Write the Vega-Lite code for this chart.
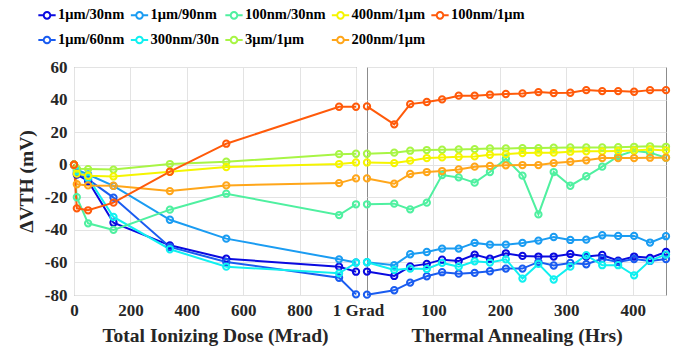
{
  "$schema": "https://vega.github.io/schema/vega-lite/v6.json",
  "background": "white",
  "padding": {"left": 15, "top": 5, "right": 5, "bottom": 5},
  "bounds": "flush",
  "config": {
    "font": "Times New Roman, Liberation Serif, DejaVu Serif, serif",
    "view": {"stroke": "#8c8c8c", "strokeWidth": 1},
    "axis": {
      "labelFont": "Times New Roman, Liberation Serif, DejaVu Serif, serif", "labelFontWeight": "bold", "labelFontSize": 17, "labelColor": "#262626",
      "titleFont": "Times New Roman, Liberation Serif, DejaVu Serif, serif", "titleFontWeight": "bold", "titleFontSize": 19.5, "titleColor": "#262626",
      "gridColor": "#e3e3e3", "gridWidth": 1, "domain": false, "ticks": false, "labelPadding": 7, "labelOverlap": false, "labelFlush": false
    },
    "legend": {
      "labelFont": "Times New Roman, Liberation Serif, DejaVu Serif, serif", "labelFontWeight": "bold", "labelFontSize": 14.5, "labelColor": "#000000",
      "labelLimit": 300
    }
  },
  "datasets": {
    "dose": [
      {"s": "1μm/30nm", "x": 0, "y": 0}, {"s": "1μm/30nm", "x": 10, "y": -6}, {"s": "1μm/30nm", "x": 50, "y": -10}, {"s": "1μm/30nm", "x": 140, "y": -35.6}, {"s": "1μm/30nm", "x": 340, "y": -49.5}, {"s": "1μm/30nm", "x": 540, "y": -57.7}, {"s": "1μm/30nm", "x": 940, "y": -62.6}, {"s": "1μm/30nm", "x": 1000, "y": -65.7},
      {"s": "1μm/60nm", "x": 0, "y": 0}, {"s": "1μm/60nm", "x": 10, "y": -5}, {"s": "1μm/60nm", "x": 50, "y": -9}, {"s": "1μm/60nm", "x": 140, "y": -20.2}, {"s": "1μm/60nm", "x": 340, "y": -50.5}, {"s": "1μm/60nm", "x": 540, "y": -59.7}, {"s": "1μm/60nm", "x": 940, "y": -69.4}, {"s": "1μm/60nm", "x": 1000, "y": -79.6},
      {"s": "1μm/90nm", "x": 0, "y": 0}, {"s": "1μm/90nm", "x": 10, "y": -3}, {"s": "1μm/90nm", "x": 50, "y": -6}, {"s": "1μm/90nm", "x": 140, "y": -13}, {"s": "1μm/90nm", "x": 340, "y": -33.8}, {"s": "1μm/90nm", "x": 540, "y": -45.4}, {"s": "1μm/90nm", "x": 940, "y": -58.1}, {"s": "1μm/90nm", "x": 1000, "y": -60},
      {"s": "300nm/30n", "x": 0, "y": 0}, {"s": "300nm/30n", "x": 10, "y": -4}, {"s": "300nm/30n", "x": 50, "y": -8}, {"s": "300nm/30n", "x": 140, "y": -32.1}, {"s": "300nm/30n", "x": 340, "y": -51.9}, {"s": "300nm/30n", "x": 540, "y": -62.6}, {"s": "300nm/30n", "x": 940, "y": -66.7}, {"s": "300nm/30n", "x": 1000, "y": -60.2},
      {"s": "100nm/30nm", "x": 0, "y": 0}, {"s": "100nm/30nm", "x": 10, "y": -20}, {"s": "100nm/30nm", "x": 50, "y": -36}, {"s": "100nm/30nm", "x": 140, "y": -40}, {"s": "100nm/30nm", "x": 340, "y": -27.6}, {"s": "100nm/30nm", "x": 540, "y": -17.8}, {"s": "100nm/30nm", "x": 940, "y": -30.9}, {"s": "100nm/30nm", "x": 1000, "y": -24.3},
      {"s": "3μm/1μm", "x": 0, "y": 0}, {"s": "3μm/1μm", "x": 10, "y": -2.5}, {"s": "3μm/1μm", "x": 50, "y": -2.7}, {"s": "3μm/1μm", "x": 140, "y": -3}, {"s": "3μm/1μm", "x": 340, "y": 0.4}, {"s": "3μm/1μm", "x": 540, "y": 1.8}, {"s": "3μm/1μm", "x": 940, "y": 6.5}, {"s": "3μm/1μm", "x": 1000, "y": 6.75},
      {"s": "400nm/1μm", "x": 0, "y": 0}, {"s": "400nm/1μm", "x": 10, "y": -5.5}, {"s": "400nm/1μm", "x": 50, "y": -6.8}, {"s": "400nm/1μm", "x": 140, "y": -7.2}, {"s": "400nm/1μm", "x": 340, "y": -4.3}, {"s": "400nm/1μm", "x": 540, "y": -1.4}, {"s": "400nm/1μm", "x": 940, "y": 0.4}, {"s": "400nm/1μm", "x": 1000, "y": 1.4},
      {"s": "200nm/1μm", "x": 0, "y": 0}, {"s": "200nm/1μm", "x": 10, "y": -12}, {"s": "200nm/1μm", "x": 50, "y": -12.7}, {"s": "200nm/1μm", "x": 140, "y": -12.9}, {"s": "200nm/1μm", "x": 340, "y": -16.2}, {"s": "200nm/1μm", "x": 540, "y": -12.7}, {"s": "200nm/1μm", "x": 940, "y": -11.3}, {"s": "200nm/1μm", "x": 1000, "y": -8.4},
      {"s": "100nm/1μm", "x": 0, "y": 0}, {"s": "100nm/1μm", "x": 10, "y": -26.8}, {"s": "100nm/1μm", "x": 50, "y": -28}, {"s": "100nm/1μm", "x": 140, "y": -23.3}, {"s": "100nm/1μm", "x": 340, "y": -4.3}, {"s": "100nm/1μm", "x": 540, "y": 12.9}, {"s": "100nm/1μm", "x": 940, "y": 35.6}, {"s": "100nm/1μm", "x": 1000, "y": 35.6}
    ],
    "anneal": [
      {"s": "1μm/30nm", "x": 0, "y": -65.6}, {"s": "1μm/30nm", "x": 41, "y": -68.3}, {"s": "1μm/30nm", "x": 65, "y": -62.4}, {"s": "1μm/30nm", "x": 90, "y": -60.9}, {"s": "1μm/30nm", "x": 113, "y": -58.3}, {"s": "1μm/30nm", "x": 138, "y": -59.1}, {"s": "1μm/30nm", "x": 162, "y": -55.2}, {"s": "1μm/30nm", "x": 185, "y": -57.7}, {"s": "1μm/30nm", "x": 209, "y": -54.4}, {"s": "1μm/30nm", "x": 234, "y": -56.0}, {"s": "1μm/30nm", "x": 258, "y": -56.4}, {"s": "1μm/30nm", "x": 281, "y": -56.4}, {"s": "1μm/30nm", "x": 306, "y": -54.8}, {"s": "1μm/30nm", "x": 330, "y": -56.4}, {"s": "1μm/30nm", "x": 354, "y": -55.4}, {"s": "1μm/30nm", "x": 378, "y": -58.9}, {"s": "1μm/30nm", "x": 402, "y": -56.4}, {"s": "1μm/30nm", "x": 426, "y": -57.2}, {"s": "1μm/30nm", "x": 450, "y": -53.6},
      {"s": "1μm/60nm", "x": 0, "y": -79.8}, {"s": "1μm/60nm", "x": 41, "y": -77.1}, {"s": "1μm/60nm", "x": 65, "y": -72.4}, {"s": "1μm/60nm", "x": 90, "y": -68.5}, {"s": "1μm/60nm", "x": 113, "y": -66.0}, {"s": "1μm/60nm", "x": 138, "y": -66.9}, {"s": "1μm/60nm", "x": 162, "y": -66.4}, {"s": "1μm/60nm", "x": 185, "y": -65.4}, {"s": "1μm/60nm", "x": 209, "y": -63.8}, {"s": "1μm/60nm", "x": 234, "y": -63.8}, {"s": "1μm/60nm", "x": 258, "y": -59.7}, {"s": "1μm/60nm", "x": 281, "y": -61.9}, {"s": "1μm/60nm", "x": 306, "y": -60.3}, {"s": "1μm/60nm", "x": 330, "y": -61.1}, {"s": "1μm/60nm", "x": 354, "y": -57.7}, {"s": "1μm/60nm", "x": 378, "y": -59.7}, {"s": "1μm/60nm", "x": 402, "y": -57.9}, {"s": "1μm/60nm", "x": 426, "y": -59.1}, {"s": "1μm/60nm", "x": 450, "y": -57.9},
      {"s": "1μm/90nm", "x": 0, "y": -59.9}, {"s": "1μm/90nm", "x": 41, "y": -61.7}, {"s": "1μm/90nm", "x": 65, "y": -55.0}, {"s": "1μm/90nm", "x": 90, "y": -53.6}, {"s": "1μm/90nm", "x": 113, "y": -51.5}, {"s": "1μm/90nm", "x": 138, "y": -51.5}, {"s": "1μm/90nm", "x": 162, "y": -48.0}, {"s": "1μm/90nm", "x": 185, "y": -49.1}, {"s": "1μm/90nm", "x": 209, "y": -49.1}, {"s": "1μm/90nm", "x": 234, "y": -48.0}, {"s": "1μm/90nm", "x": 258, "y": -46.6}, {"s": "1μm/90nm", "x": 281, "y": -44.4}, {"s": "1μm/90nm", "x": 306, "y": -46.2}, {"s": "1μm/90nm", "x": 330, "y": -46.0}, {"s": "1μm/90nm", "x": 354, "y": -43.3}, {"s": "1μm/90nm", "x": 378, "y": -43.7}, {"s": "1μm/90nm", "x": 402, "y": -43.7}, {"s": "1μm/90nm", "x": 426, "y": -47.8}, {"s": "1μm/90nm", "x": 450, "y": -43.9},
      {"s": "300nm/30n", "x": 0, "y": -59.9}, {"s": "300nm/30n", "x": 41, "y": -64.6}, {"s": "300nm/30n", "x": 65, "y": -63.8}, {"s": "300nm/30n", "x": 90, "y": -64.0}, {"s": "300nm/30n", "x": 113, "y": -60.3}, {"s": "300nm/30n", "x": 138, "y": -62.6}, {"s": "300nm/30n", "x": 162, "y": -59.3}, {"s": "300nm/30n", "x": 185, "y": -60.1}, {"s": "300nm/30n", "x": 209, "y": -58.1}, {"s": "300nm/30n", "x": 234, "y": -69.9}, {"s": "300nm/30n", "x": 258, "y": -60.9}, {"s": "300nm/30n", "x": 281, "y": -70.5}, {"s": "300nm/30n", "x": 306, "y": -62.6}, {"s": "300nm/30n", "x": 330, "y": -55.6}, {"s": "300nm/30n", "x": 354, "y": -61.7}, {"s": "300nm/30n", "x": 378, "y": -61.7}, {"s": "300nm/30n", "x": 402, "y": -67.9}, {"s": "300nm/30n", "x": 426, "y": -58.9}, {"s": "300nm/30n", "x": 450, "y": -55.2},
      {"s": "100nm/30nm", "x": 0, "y": -24.3}, {"s": "100nm/30nm", "x": 41, "y": -23.9}, {"s": "100nm/30nm", "x": 65, "y": -27.4}, {"s": "100nm/30nm", "x": 90, "y": -23.3}, {"s": "100nm/30nm", "x": 113, "y": -6.3}, {"s": "100nm/30nm", "x": 138, "y": -7.8}, {"s": "100nm/30nm", "x": 162, "y": -11.0}, {"s": "100nm/30nm", "x": 185, "y": -4.5}, {"s": "100nm/30nm", "x": 209, "y": 3.7}, {"s": "100nm/30nm", "x": 234, "y": -6.7}, {"s": "100nm/30nm", "x": 258, "y": -30.5}, {"s": "100nm/30nm", "x": 281, "y": -4.5}, {"s": "100nm/30nm", "x": 306, "y": -12.9}, {"s": "100nm/30nm", "x": 330, "y": -7.1}, {"s": "100nm/30nm", "x": 354, "y": -1.2}, {"s": "100nm/30nm", "x": 378, "y": 5.3}, {"s": "100nm/30nm", "x": 402, "y": 8.6}, {"s": "100nm/30nm", "x": 426, "y": 7.4}, {"s": "100nm/30nm", "x": 450, "y": 4.3},
      {"s": "3μm/1μm", "x": 0, "y": 6.75}, {"s": "3μm/1μm", "x": 41, "y": 7.4}, {"s": "3μm/1μm", "x": 65, "y": 8.6}, {"s": "3μm/1μm", "x": 90, "y": 9.0}, {"s": "3μm/1μm", "x": 113, "y": 9.2}, {"s": "3μm/1μm", "x": 138, "y": 9.4}, {"s": "3μm/1μm", "x": 162, "y": 9.6}, {"s": "3μm/1μm", "x": 185, "y": 10.0}, {"s": "3μm/1μm", "x": 209, "y": 10.0}, {"s": "3μm/1μm", "x": 234, "y": 10.2}, {"s": "3μm/1μm", "x": 258, "y": 10.2}, {"s": "3μm/1μm", "x": 281, "y": 10.4}, {"s": "3μm/1μm", "x": 306, "y": 10.6}, {"s": "3μm/1μm", "x": 330, "y": 10.6}, {"s": "3μm/1μm", "x": 354, "y": 10.6}, {"s": "3μm/1μm", "x": 378, "y": 10.8}, {"s": "3μm/1μm", "x": 402, "y": 11.0}, {"s": "3μm/1μm", "x": 426, "y": 11.3}, {"s": "3μm/1μm", "x": 450, "y": 11.0},
      {"s": "400nm/1μm", "x": 0, "y": 1.4}, {"s": "400nm/1μm", "x": 41, "y": 1.0}, {"s": "400nm/1μm", "x": 65, "y": 2.5}, {"s": "400nm/1μm", "x": 90, "y": 4.1}, {"s": "400nm/1μm", "x": 113, "y": 4.5}, {"s": "400nm/1μm", "x": 138, "y": 4.9}, {"s": "400nm/1μm", "x": 162, "y": 5.1}, {"s": "400nm/1μm", "x": 185, "y": 6.1}, {"s": "400nm/1μm", "x": 209, "y": 6.5}, {"s": "400nm/1μm", "x": 234, "y": 7.2}, {"s": "400nm/1μm", "x": 258, "y": 7.4}, {"s": "400nm/1μm", "x": 281, "y": 7.4}, {"s": "400nm/1μm", "x": 306, "y": 8.0}, {"s": "400nm/1μm", "x": 330, "y": 8.2}, {"s": "400nm/1μm", "x": 354, "y": 8.2}, {"s": "400nm/1μm", "x": 378, "y": 8.4}, {"s": "400nm/1μm", "x": 402, "y": 8.8}, {"s": "400nm/1μm", "x": 426, "y": 9.4}, {"s": "400nm/1μm", "x": 450, "y": 8.8},
      {"s": "200nm/1μm", "x": 0, "y": -8.4}, {"s": "200nm/1μm", "x": 41, "y": -11.7}, {"s": "200nm/1μm", "x": 65, "y": -5.7}, {"s": "200nm/1μm", "x": 90, "y": -4.5}, {"s": "200nm/1μm", "x": 113, "y": -3.9}, {"s": "200nm/1μm", "x": 138, "y": -2.9}, {"s": "200nm/1μm", "x": 162, "y": -1.2}, {"s": "200nm/1μm", "x": 185, "y": -0.8}, {"s": "200nm/1μm", "x": 209, "y": -0.4}, {"s": "200nm/1μm", "x": 234, "y": -0.2}, {"s": "200nm/1μm", "x": 258, "y": -0.2}, {"s": "200nm/1μm", "x": 281, "y": 1.0}, {"s": "200nm/1μm", "x": 306, "y": 1.8}, {"s": "200nm/1μm", "x": 330, "y": 2.7}, {"s": "200nm/1μm", "x": 354, "y": 4.1}, {"s": "200nm/1μm", "x": 378, "y": 4.1}, {"s": "200nm/1μm", "x": 402, "y": 4.1}, {"s": "200nm/1μm", "x": 426, "y": 4.3}, {"s": "200nm/1μm", "x": 450, "y": 4.3},
      {"s": "100nm/1μm", "x": 0, "y": 35.8}, {"s": "100nm/1μm", "x": 41, "y": 24.8}, {"s": "100nm/1μm", "x": 65, "y": 37.2}, {"s": "100nm/1μm", "x": 90, "y": 38.5}, {"s": "100nm/1μm", "x": 113, "y": 40.1}, {"s": "100nm/1μm", "x": 138, "y": 42.4}, {"s": "100nm/1μm", "x": 162, "y": 42.4}, {"s": "100nm/1μm", "x": 185, "y": 43.0}, {"s": "100nm/1μm", "x": 209, "y": 43.4}, {"s": "100nm/1μm", "x": 234, "y": 43.8}, {"s": "100nm/1μm", "x": 258, "y": 44.6}, {"s": "100nm/1μm", "x": 281, "y": 44.0}, {"s": "100nm/1μm", "x": 306, "y": 44.2}, {"s": "100nm/1μm", "x": 330, "y": 45.8}, {"s": "100nm/1μm", "x": 354, "y": 45.2}, {"s": "100nm/1μm", "x": 378, "y": 45.2}, {"s": "100nm/1μm", "x": 402, "y": 44.8}, {"s": "100nm/1μm", "x": 426, "y": 45.8}, {"s": "100nm/1μm", "x": 450, "y": 45.8}
    ]
  },
  "spacing": 11,
  "resolve": {"scale": {"color": "shared"}},
  "hconcat": [
    {
      "width": 282,
      "height": 228,
      "data": {"name": "dose"},
      "mark": {"type": "line", "strokeWidth": 2, "point": {"filled": false, "size": 40, "strokeWidth": 2}},
      "encoding": {
        "x": {"field": "x", "type": "quantitative", "scale": {"domain": [0, 1000], "nice": false},
              "axis": {"values": [0, 200, 400, 600, 800, 1000], "labelExpr": "datum.value == 1000 ? '1 Grad' : datum.value",
                       "labelOffset": {"condition": {"test": "datum.value == 1000", "value": 2}, "value": 0},
                       "title": "Total Ionizing Dose (Mrad)", "titlePadding": 8}},
        "y": {"field": "y", "type": "quantitative", "scale": {"domain": [-80, 60], "nice": false},
              "axis": {"values": [-80, -60, -40, -20, 0, 20, 40, 60], "labelExpr": "datum.value", "title": "ΔVTH (mV)", "titlePadding": 8}},
        "color": {"field": "s", "type": "nominal",
          "scale": {
            "domain": ["1μm/30nm", "1μm/90nm", "100nm/30nm", "400nm/1μm", "100nm/1μm", "1μm/60nm", "300nm/30n", "3μm/1μm", "200nm/1μm"],
            "range": ["#0a0ae0", "#1a9cf2", "#4ff0a0", "#f5f500", "#ff5a0a", "#1a5cf0", "#10f0f0", "#a8f545", "#ffa61a"]
          },
          "legend": {"title": null, "orient": "none", "legendX": -37, "legendY": -62, "columns": 5, "direction": "horizontal", "gridAlign": "each",
            "symbolType": "M-1,0H-0.38M0.38,0H1M0.38,0A0.38,0.38,0,1,1,-0.38,0A0.38,0.38,0,1,1,0.38,0",
            "symbolSize": 300, "symbolStrokeWidth": 2, "symbolFillColor": "transparent", "columnPadding": 1.5, "rowPadding": 7, "labelOffset": 1}
        }
      }
    },
    {
      "width": 299,
      "height": 228,
      "data": {"name": "anneal"},
      "mark": {"type": "line", "strokeWidth": 2, "point": {"filled": false, "size": 40, "strokeWidth": 2}},
      "encoding": {
        "x": {"field": "x", "type": "quantitative", "scale": {"domain": [0, 450], "nice": false},
              "axis": {"values": [100, 200, 300, 400], "title": "Thermal Annealing (Hrs)", "titlePadding": 8}},
        "y": {"field": "y", "type": "quantitative", "scale": {"domain": [-80, 60], "nice": false},
              "axis": {"values": [-80, -60, -40, -20, 0, 20, 40, 60], "labels": false, "title": null}},
        "color": {"field": "s", "type": "nominal"}
      }
    }
  ]
}
